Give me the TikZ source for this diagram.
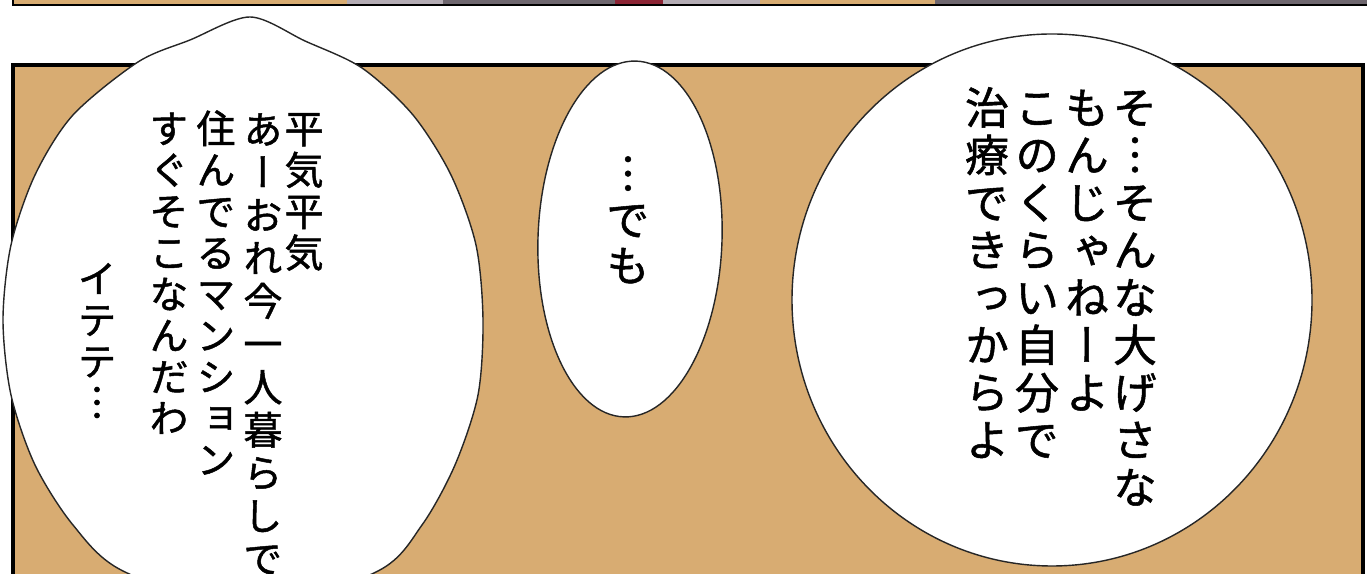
\documentclass[tikz,border=0pt]{standalone}
\usepackage{fontspec}
\newfontfamily\jp[RawFeature=+vert, FakeBold=1.2]{Noto Sans CJK JP}
\definecolor{marron}{HTML}{D8AC72}
\definecolor{gris}{HTML}{B4ACB4}
\definecolor{grisosc}{HTML}{6E666E}
\definecolor{granate}{HTML}{8C2434}
\makeatletter
% texto vertical, un caracter por linea
\newcommand\tate[2][1.06em]{\vbox{\offinterlineskip\@tfor\tch:=#2\do{%
  \vbox to #1{\vss\hbox to 1em{\hss\vrule height .88em depth .12em width 0pt\tch\hss}\vss}}}}
\makeatother

\begin{document}
\begin{tikzpicture}[x=0.01cm, y=-0.01cm,
  globo/.style={fill=white, draw=black!85, line width=0.4pt},
  columna/.style={inner sep=0pt, anchor=north},
  izq/.style={font=\jp\fontsize{11.1}{12}\selectfont},
  cen/.style={font=\jp\fontsize{12.3}{13}\selectfont},
  der/.style={font=\jp\fontsize{12.5}{13}\selectfont}]
  \useasboundingbox (0,0) rectangle (1367,574);
  \clip (0,0) rectangle (1367,574);

  % Viñetas de arriba
  \fill[marron] (13,0) rectangle (347,5);
  \fill[gris] (347,0) rectangle (443,5);
  \fill[grisosc] (443,0) rectangle (615,5);
  \fill[granate] (615,0) rectangle (663,5);
  \fill[gris] (663,0) rectangle (760,5);
  \fill[marron] (760,0) rectangle (935,5);
  \fill[grisosc] (935,0) rectangle (1367,5);
  \draw[line width=0.7pt] (13,0) -- (13,5) -- (1367,5);

  % Viñeta principal
  \fill[marron] (13,65) rectangle (1363,600);
  \draw[line width=0.9pt] (13,600) -- (13,65) -- (1363,65) -- (1363,600);

  % Globos
  \draw[globo] plot[smooth cycle, tension=0.5] coordinates {(483,320) (476,245)
    (451,175) (413,115) (362,68) (305,41) (250,17) (190,40) (138,62) (73,115)
    (35,175) (11,245) (3,320) (11,395) (35,465) (73,525) (123,571) (250,612)
    (378,571) (422,525) (455,465) (478,395)};
  \draw[globo, rotate around={-2:(630,239)}] (630,239) ellipse (92 and 178);
  \draw[globo] (1052,300) ellipse (260 and 266);

  % Textos
  \node[columna, izq] (izq1) at (304,107) {\tate{平気平気}};
  \node[columna, izq] (izq2) at (263,107) {\tate[1.1em]{あーおれ今一人暮らしで}};
  \node[columna, izq] (izq3) at (216,107) {\tate{住んでるマンション}};
  \node[columna, izq] (izq4) at (169,107) {\tate{すぐそこなんだわ}};
  \node[columna, izq] (izq5) at (97,257) {\tate{イテテ︙}};

  \node[columna, cen] (cen1) at (628,150) {\tate{︙でも}};

  \node[columna, der] (der1) at (1135,83) {\tate[1.08em]{そ︙そんな大げさな}};
  \node[columna, der] (der2) at (1087,83) {\tate[1.08em]{もんじゃねーよ}};
  \node[columna, der] (der3) at (1037,83) {\tate[1.08em]{このくらい自分で}};
  \node[columna, der] (der4) at (987,83) {\tate[1.08em]{治療できっからよ}};
\end{tikzpicture}
\end{document}
